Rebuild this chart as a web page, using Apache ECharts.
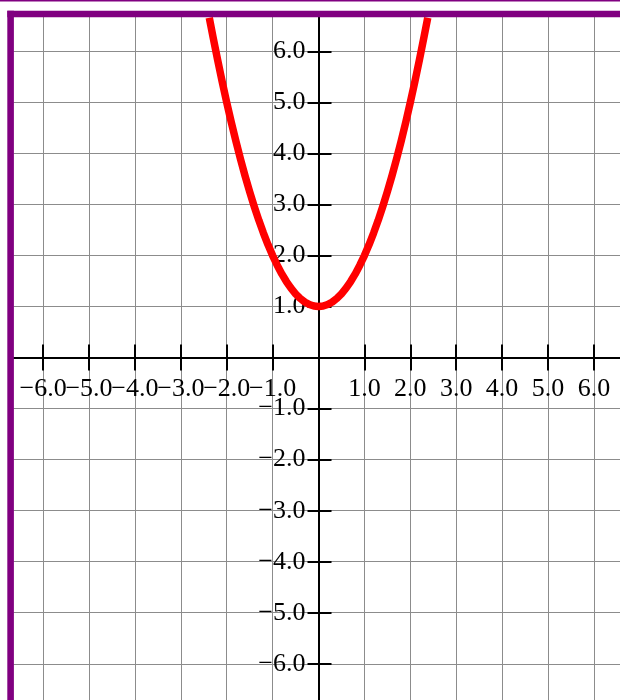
<!DOCTYPE html>
<html><head><meta charset="utf-8">
<script src="https://cdn.jsdelivr.net/npm/echarts@6/dist/echarts.min.js"></script>
<style>html,body{margin:0;padding:0;background:#fff}#c{width:620px;height:700px}</style>
</head><body><div id="c"></div>
<script>
// Data (parabola with vertex at (0, 1))
const curveX = [-2.38,-2.3,-2.2,-2.1,-2.0,-1.9,-1.8,-1.7,-1.6,-1.5,-1.4,-1.3,-1.2,-1.1,-1.0,-0.9,-0.8,-0.7,-0.6,-0.5,-0.4,-0.3,-0.2,-0.1,0,0.1,0.2,0.3,0.4,0.5,0.6,0.7,0.8,0.9,1.0,1.1,1.2,1.3,1.4,1.5,1.6,1.7,1.8,1.9,2.0,2.1,2.2,2.3,2.38];
const curveY = [6.66,6.29,5.84,5.41,5.0,4.61,4.24,3.89,3.56,3.25,2.96,2.69,2.44,2.21,2.0,1.81,1.64,1.49,1.36,1.25,1.16,1.09,1.04,1.01,1.0,1.01,1.04,1.09,1.16,1.25,1.36,1.49,1.64,1.81,2.0,2.21,2.44,2.69,2.96,3.25,3.56,3.89,4.24,4.61,5.0,5.41,5.84,6.29,6.66];
const xTickValues = [-6,-5,-4,-3,-2,-1,1,2,3,4,5,6];
const xLabelsEven = [-6,-4,-2,2,4,6];
const xLabelsOdd = [-5,-3,-1,1,3,5];
const yTickValues = [-6,-5,-4,-3,-2,-1,1,2,3,4,5,6];
const xRange = [-6.65, 7.0];
const yRange = [-7.0, 6.68];

// Layout
const G = {left: 13.3, top: 16.7, width: 626.5, height: 698.1};
const PURPLE = '#800080';
const BORDER = 6;
const xOffset = -G.height * (0 - yRange[0]) / (yRange[1] - yRange[0]);
const yOffset = -G.width * (0 - xRange[0]) / (xRange[1] - xRange[0]);
const fmt = v => (v < 0 ? '\u2212' : '') + Math.abs(v).toFixed(1);
const labelStyle = {fontFamily: 'Liberation Serif', fontSize: 26, color: '#000', showMinLabel: true, showMaxLabel: true, hideOverlap: false};
const gridLine = {show: true, lineStyle: {color: '#8c8c8c', width: 1}};
const tickLine = {color: '#000', width: 2};

const chart = echarts.init(document.getElementById('c'), null, {renderer: 'canvas'});
chart.setOption({
  animation: false,
  grid: {left: G.left, top: G.top, width: G.width, height: G.height, containLabel: false, outerBoundsMode: 'none'},
  xAxis: [
    {type: 'value', min: xRange[0], max: xRange[1], splitNumber: 14, position: 'bottom', offset: xOffset,
     axisLine: {onZero: false, lineStyle: {color: '#000', width: 2}},
     axisTick: {show: true, length: 13, lineStyle: tickLine, customValues: xTickValues},
     axisLabel: {show: true, margin: 19, customValues: xLabelsEven, formatter: fmt, ...labelStyle},
     splitLine: gridLine},
    {type: 'value', min: xRange[0], max: xRange[1], splitNumber: 14, position: 'bottom', offset: xOffset,
     axisLine: {show: false, onZero: false},
     axisTick: {show: true, inside: true, length: 13, lineStyle: tickLine, customValues: xTickValues},
     axisLabel: {show: true, margin: 19, customValues: xLabelsOdd, formatter: fmt, ...labelStyle},
     splitLine: {show: false}}
  ],
  yAxis: [
    {type: 'value', min: yRange[0], max: yRange[1], splitNumber: 14, position: 'left', offset: yOffset,
     axisLine: {onZero: false, lineStyle: {color: '#000', width: 2}},
     axisTick: {show: true, length: 11, lineStyle: tickLine, customValues: yTickValues},
     axisLabel: {show: true, margin: 13, customValues: yTickValues, formatter: fmt, ...labelStyle},
     splitLine: gridLine},
    {type: 'value', min: yRange[0], max: yRange[1], splitNumber: 14, position: 'left', offset: yOffset,
     axisLine: {show: false, onZero: false},
     axisTick: {show: true, inside: true, length: 13, lineStyle: tickLine, customValues: yTickValues},
     axisLabel: {show: false}, splitLine: {show: false}}
  ],
  series: [{
    type: 'line', xAxisIndex: 0, yAxisIndex: 0,
    data: curveX.map((x, i) => [x, curveY[i]]),
    smooth: false, showSymbol: false, symbol: 'none', clip: true,
    lineStyle: {color: '#ff0000', width: 7.5, join: 'round'}, z: 5
  }],
  graphic: [
    {type: 'rect', z: 100, silent: true, shape: {x: 0, y: 0, width: 620, height: 1.6}, style: {fill: PURPLE}},
    {type: 'rect', z: 100, silent: true, shape: {x: G.left - BORDER, y: G.top - BORDER, width: 620, height: BORDER + 0.6}, style: {fill: PURPLE}},
    {type: 'rect', z: 100, silent: true, shape: {x: G.left - BORDER, y: G.top - BORDER, width: BORDER + 0.6, height: 700}, style: {fill: PURPLE}}
  ]
});
</script></body></html>
